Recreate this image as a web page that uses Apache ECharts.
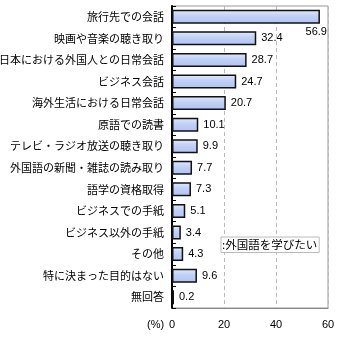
<!DOCTYPE html>
<html>
<head>
<meta charset="utf-8">
<script src="https://cdn.jsdelivr.net/npm/echarts@6/dist/echarts.min.js"></script>
<style>
  html, body { margin: 0; padding: 0; background: #fff; }
  #chart { width: 340px; height: 340px; }
</style>
</head>
<body>
<div id="chart"></div>
<script>
// Purposes for learning a foreign language (%)
const categories = [
  '旅行先での会話',
  '映画や音楽の聴き取り',
  '日本における外国人との日常会話',
  'ビジネス会話',
  '海外生活における日常会話',
  '原語での読書',
  'テレビ・ラジオ放送の聴き取り',
  '外国語の新聞・雑誌の読み取り',
  '語学の資格取得',
  'ビジネスでの手紙',
  'ビジネス以外の手紙',
  'その他',
  '特に決まった目的はない',
  '無回答'
];
const seriesName = '外国語を学びたい';
const values = [56.9, 32.4, 28.7, 24.7, 20.7, 10.1, 9.9, 7.7, 7.3, 5.1, 3.4, 4.3, 9.6, 0.2];
const xTicks = { min: 0, max: 60, step: 20 };
const unitLabel = '(%)';

const FONT = '"Liberation Sans", "Noto Sans CJK JP", sans-serif';
const CJK = '"Noto Sans CJK JP", sans-serif';

const barFill = new echarts.graphic.LinearGradient(0, 0, 0, 1, [
  { offset: 0, color: '#e2eafc' },
  { offset: 0.45, color: '#c0d0f6' },
  { offset: 1, color: '#b0c3f1' }
]);

// The longest bar has no room for its label on the right, so it goes underneath.
const barData = values.map((v, i) => {
  const item = { value: v };
  if (i === 0) {
    item.label = { position: ['100%', '100%'], align: 'right', verticalAlign: 'top', offset: [7, 3] };
  }
  return item;
});

const chart = echarts.init(document.getElementById('chart'), null, { renderer: 'canvas' });
chart.setOption({
  animation: false,
  backgroundColor: '#fff',
  textStyle: { fontFamily: FONT },
  grid: {
    left: 172, right: 12, top: 6, bottom: 32,
    outerBoundsMode: 'none',
    containLabel: false,
    show: true, borderColor: '#999', borderWidth: 1, backgroundColor: 'transparent'
  },
  legend: {
    data: [seriesName],
    left: 221, top: 237,
    icon: 'none', itemWidth: 0, itemHeight: 0, itemGap: 0,
    formatter: (name) => ':' + name,
    backgroundColor: '#fff', borderColor: '#bbb', borderWidth: 1,
    padding: [2, 2, 2, 0],
    textStyle: { fontSize: 11.5, color: '#000', fontFamily: CJK, padding: [0, 0, 0, -4] }
  },
  xAxis: {
    type: 'value',
    min: xTicks.min, max: xTicks.max, interval: xTicks.step,
    axisLine: { show: true, lineStyle: { color: '#888', width: 1 } },
    axisTick: { show: false },
    axisLabel: { color: '#000', fontSize: 11, margin: 11, fontFamily: FONT },
    splitLine: { show: true, lineStyle: { color: '#bbb', type: [4, 3], width: 1 } }
  },
  yAxis: {
    type: 'category',
    data: categories,
    inverse: true,
    axisLine: { show: true, lineStyle: { color: '#000', width: 2 } },
    axisTick: { show: true, inside: true, length: 4, lineStyle: { color: '#000', width: 1 } },
    axisLabel: { color: '#000', fontSize: 11, margin: 8, fontFamily: CJK },
    splitLine: { show: false }
  },
  graphic: [{
    type: 'text',
    left: 147, top: 319,
    style: { text: unitLabel, fill: '#000', fontSize: 11, fontFamily: FONT }
  }],
  series: [{
    name: seriesName,
    type: 'bar',
    data: barData,
    barCategoryGap: '35%',
    barMinHeight: 2,
    itemStyle: { color: barFill, borderColor: '#111', borderWidth: 1.5 },
    label: {
      show: true, position: 'right', distance: 5,
      color: '#000', fontSize: 11, fontFamily: FONT
    }
  }]
});
</script>
</body>
</html>
